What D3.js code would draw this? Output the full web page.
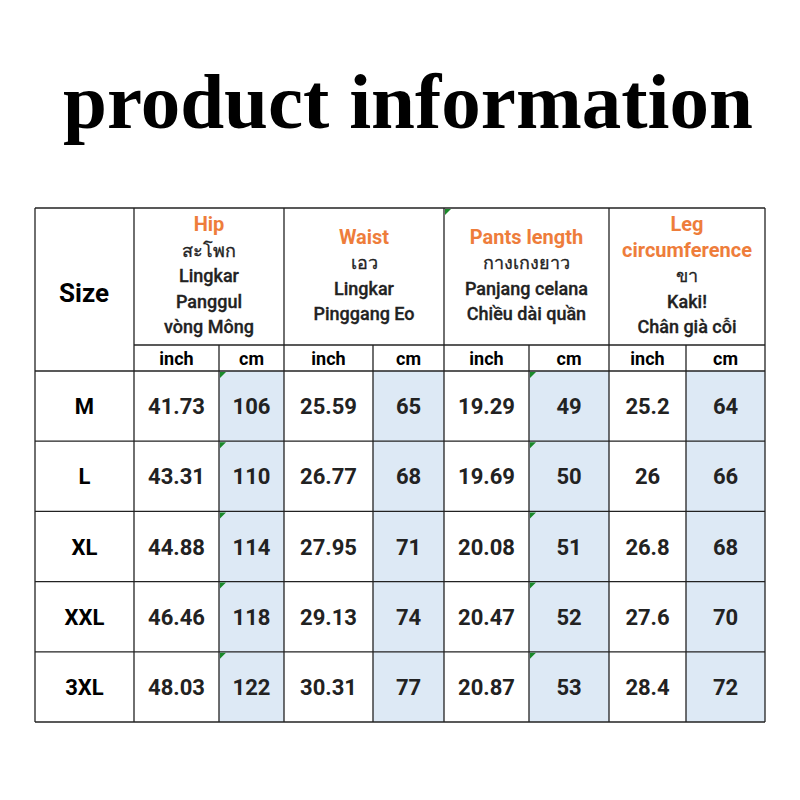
<!DOCTYPE html><html><head><meta charset="utf-8"><script src="https://d3js.org/d3.v7.min.js"></script>
<style>body{margin:0;background:#fff}</style></head><body><svg id="c" width="800" height="800"></svg>
<script>
const sizes=["M","L","XL","XXL","3XL"];
const hipInch=["41.73","43.31","44.88","46.46","48.03"], hipCm=["106","110","114","118","122"];
const waistInch=["25.59","26.77","27.95","29.13","30.31"], waistCm=["65","68","71","74","77"];
const lenInch=["19.29","19.69","20.08","20.47","20.87"], lenCm=["49","50","51","52","53"];
const legInch=["25.2","26","26.8","27.6","28.4"], legCm=["64","66","68","70","72"];
const groups=[
 {title:["Hip"],sub:["สะโพก","Lingkar","Panggul","vòng Mông"]},
 {title:["Waist"],sub:["เอว","Lingkar","Pinggang  Eo"]},
 {title:["Pants length"],sub:["กางเกงยาว","Panjang celana","Chiều dài quần"]},
 {title:["Leg","circumference"],sub:["ขา","Kaki!","Chân già cỗi"]}];
const units=["inch","cm"];
const svg=d3.select("#c");
const F="Roboto, 'Noto Sans', sans-serif";
svg.append("text").attr("x",408).attr("y",128).attr("text-anchor","middle").attr("font-family","'Liberation Serif',serif").attr("font-weight","bold").attr("font-size",79).text("product information");
const colX=[35,134,219,284,373,444,529,609,686,765];
const rowY=d3.scaleBand().domain(sizes).range([371,722]);
const cols=[[hipInch,hipCm],[waistInch,waistCm],[lenInch,lenCm],[legInch,legCm]];
const g=svg.append("g");
sizes.forEach((s,i)=>{cols.forEach((c,k)=>{const x0=colX[2+2*k],x1=colX[3+2*k];
 g.append("rect").attr("x",x0).attr("y",rowY(s)).attr("width",x1-x0).attr("height",rowY.bandwidth()).attr("fill","#dde9f5");});});
sizes.forEach((s,i)=>{const cy=rowY(s)+rowY.bandwidth()/2+8;
 g.append("text").attr("x",(colX[0]+colX[1])/2).attr("y",cy).attr("text-anchor","middle").attr("font-family",F).attr("font-weight","bold").attr("font-size",22).text(s);
 cols.forEach((c,k)=>{[0,1].forEach(u=>{const x0=colX[1+2*k+u],x1=colX[2+2*k+u];
  g.append("text").attr("x",(x0+x1)/2).attr("y",cy).attr("text-anchor","middle").attr("font-family",F).attr("font-weight","bold").attr("font-size",22).attr("fill","#222").text(c[u][i]);});});});
g.append("text").attr("x",84).attr("y",302).attr("text-anchor","middle").attr("font-family",F).attr("font-weight","bold").attr("font-size",26).text("Size");
groups.forEach((gr,k)=>{const cx=(colX[1+2*k]+colX[3+2*k])/2;
 const lines=gr.title.map(t=>({t,o:1})).concat(gr.sub.map(t=>({t,o:0})));
 const lh=25.5, n=lines.length, top=276-(n-1)*lh/2+6;
 lines.forEach((l,j)=>g.append("text").attr("x",cx).attr("y",top+j*lh).attr("text-anchor","middle").attr("font-family",F).attr("font-weight",l.o?"bold":"500").attr("font-size",l.o?20:18).attr("fill",l.o?"#ee7d3b":"#222").attr("stroke",l.o?"none":"#222").attr("stroke-width",0.3).text(l.t));
 units.forEach((u,j)=>{const x0=colX[1+2*k+j],x1=colX[2+2*k+j];
  g.append("text").attr("x",(x0+x1)/2).attr("y",365).attr("text-anchor","middle").attr("font-family",F).attr("font-weight","bold").attr("font-size",18).text(u);});});
const L=(x1,y1,x2,y2)=>g.append("line").attr("x1",x1).attr("y1",y1).attr("x2",x2).attr("y2",y2).attr("stroke","#222").attr("stroke-width",1.3);
L(35,208,765,208);L(134,345,765,345);
sizes.forEach(s=>L(35,rowY(s),765,rowY(s)));L(35,722,765,722);
[35,134,284,444,609,765].forEach(x=>L(x,208,x,722));
[219,373,529,686].forEach(x=>L(x,345,x,722));
const tri=(x,y)=>g.append("path").attr("d",`M${x},${y}h6l-6,6z`).attr("fill","#1a8a2a");
sizes.forEach(s=>{[219,529].forEach(x=>tri(x+1,rowY(s)+1));});
tri(445,209);
</script></body></html>
